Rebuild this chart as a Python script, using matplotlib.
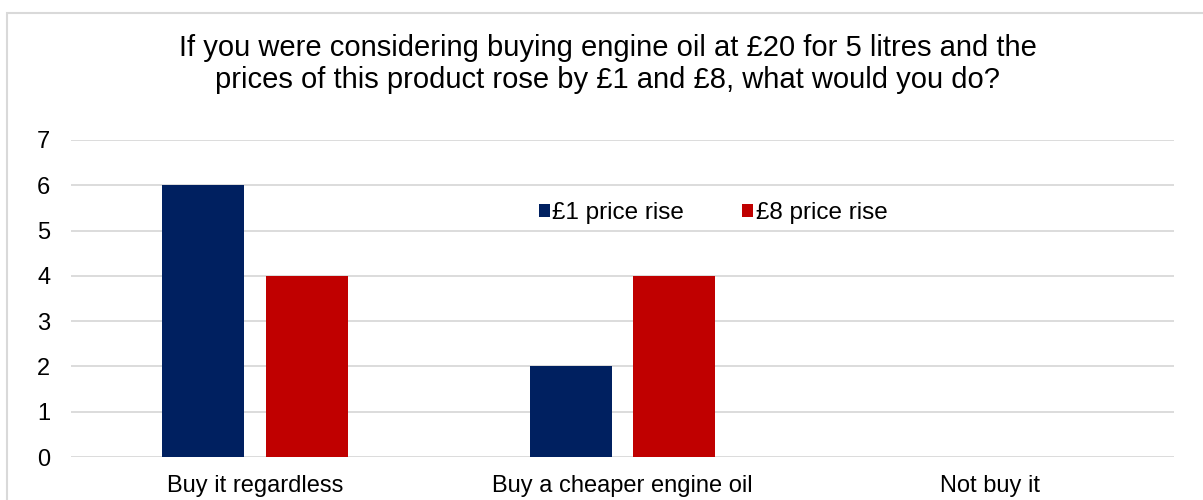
import matplotlib.pyplot as plt
import numpy as np
from matplotlib.patches import Rectangle

plt.rcParams['font.family'] = ['Liberation Sans', 'DejaVu Sans']

categories = ['Buy it regardless', 'Buy a cheaper engine oil', 'Not buy it']
rise_1 = [6, 2, 0]
rise_8 = [4, 4, 0]
series_names = ['£1 price rise', '£8 price rise']

W, H = 1203, 500
fig = plt.figure(figsize=(W / 100, H / 100), dpi=100)
# plot area in pixels: left 71, right 1174, top (y=7) 140, bottom (y=0) 457
ax = fig.add_axes([71 / W, 1 - 457 / H, (1174 - 71) / W, (457 - 140) / H])

x = np.arange(len(categories))
bw = 0.223
ax.bar(x - 0.141, rise_1, bw, color='#002060', label=series_names[0], zorder=3)
ax.bar(x + 0.141, rise_8, bw, color='#C00000', label=series_names[1], zorder=3)

ax.set_xlim(-0.5, 2.5)
ax.set_ylim(0, 7)
ax.set_yticks(range(0, 8))
ax.yaxis.grid(True, color='#d9d9d9', linewidth=1.3, zorder=0)
ax.set_xticks(x)
ax.set_xticklabels(categories)
ax.tick_params(axis='both', length=0, labelsize=17, colors='black')
ax.tick_params(axis='x', pad=13)
ax.tick_params(axis='y', pad=15)
for s in ax.spines.values():
    s.set_visible(False)

fig.text(0.505, 1 - 64 / H,
         'If you were considering buying engine oil at £20 for 5 litres and the\n'
         'prices of this product rose by £1 and £8, what would you do?',
         ha='center', va='center', fontsize=21, linespacing=1.2)

leg = ax.legend(loc='center', bbox_to_anchor=(713 / W, 1 - 213 / H),
                bbox_transform=fig.transFigure, ncol=2, frameon=False,
                fontsize=17.5, handlelength=0.45, handleheight=0.45,
                handletextpad=0.1, columnspacing=2.4)

fig.patches.append(Rectangle((7 / W, -0.1), 1.1, 1 - 13 / H + 0.1,
                             transform=fig.transFigure, fill=False,
                             edgecolor='#d9d9d9', linewidth=1.5))

fig.savefig('out.png', dpi=100)
